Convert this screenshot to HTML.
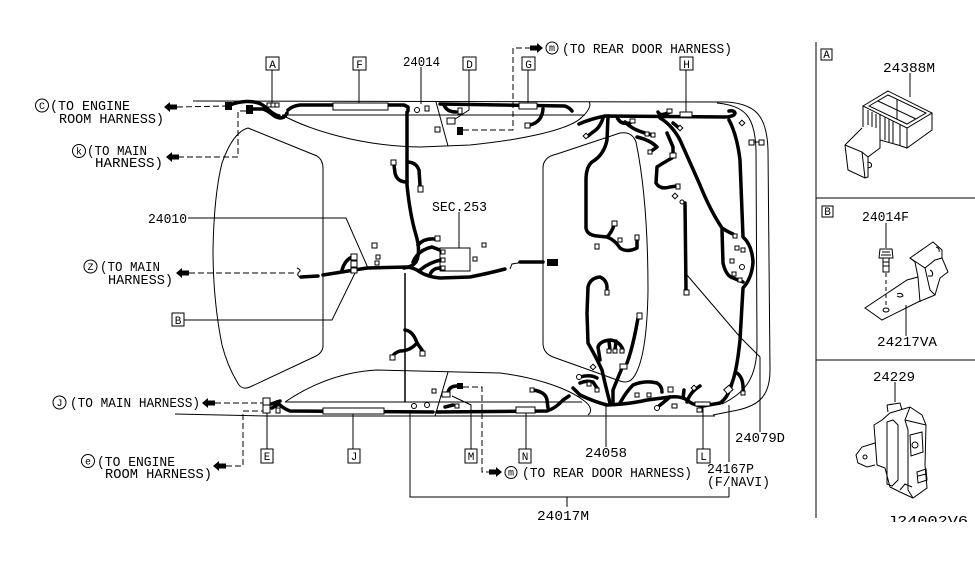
<!DOCTYPE html>
<html><head><meta charset="utf-8"><style>
html,body{margin:0;padding:0;background:#fff;}
svg{display:block;}
text{font-family:"Liberation Mono","DejaVu Sans Mono",monospace;font-size:14px;fill:#000;}
.s{font-size:10px;}
.b{font-size:11px;}
</style></head><body>
<svg width="975" height="566" viewBox="0 0 975 566" xmlns="http://www.w3.org/2000/svg">
<rect width="975" height="566" fill="#fff"/>

<!-- ===== body outlines ===== -->
<g fill="none" stroke="#000" stroke-width="1">
<path d="M193,101 L727,102 C755,104 767,115 768,150 L770,370 C770,395 760,405 738,410 L713,415"/>
<path d="M717,103 C745,106 755,116 756,150 L757,345 C757,378 745,393 722,404"/>
<path d="M175,414 L267,416 L715,416"/>
<!-- front door (top) -->
<path d="M282,115 C310,130 360,146 420,147 L470,145 C520,140 570,130 582,117 C590,110 591,104 589,102"/>
<path d="M282,115 L585,115"/>
<path d="M436,102 L448,146"/>
<!-- rear door (bottom) -->
<path d="M285,402 C310,385 340,372 377,370 L500,373 C540,378 570,390 583,400 C592,406 592,412 588,415"/>
<path d="M285,402 L582,402"/>
<path d="M448,372 L435,416"/>
<!-- windshield -->
<path d="M248,128 L317,156 Q323,160 323,168 L323,347 Q322,353 316,356 L250,387 Q243,390 239,385 Q228,368 222,345 Q213,300 213,250 Q214,195 222,163 Q233,132 248,128 Z"/>
<!-- rear window -->
<path d="M557,154 L620,133 Q632,131 636,142 Q648,200 648,290 Q647,360 633,378 Q628,384 620,381 L553,357 Q543,353 543,343 L543,168 Q543,157 557,154 Z"/>
</g>

<!-- ===== leaders ===== -->
<g fill="none" stroke="#000" stroke-width="1">
<path d="M272,70 L272,103"/>
<path d="M359,70 L359,104"/>
<path d="M421,67 L421,104"/>
<path d="M469,70 L469,110 L452,121"/>
<path d="M528,70 L528,103"/>
<path d="M686,70 L686,112"/>
<path d="M188,218 L346,218 L368,268"/>
<path d="M184,320 L332,320 L356,271"/>
<path d="M267,413 L267,449"/>
<path d="M353,414 L353,449"/>
<path d="M471,449 L471,405 L452,396"/>
<path d="M526,449 L526,413"/>
<path d="M606,447 L606,404"/>
<path d="M703,449 L703,406"/>
<path d="M760,432 L760,357 L740,337 L687,275"/>
<path d="M729,405 L729,462 M729,487 L729,497"/>
<path d="M410,410 L410,497 L729,497 M567,497 L567,507"/>
<path d="M459,212 L459,248"/>
<path d="M405,273 L405,402" stroke-width="1.5"/>
</g>

<!-- ===== dashed ===== -->
<g fill="none" stroke="#000" stroke-width="1" stroke-dasharray="6,3">
<path d="M177,107 L225,106"/>
<path d="M178,157 L238,157 L238,111 L246,111"/>
<path d="M189,273 L297,273"/>
<path d="M215,403 L263,403"/>
<path d="M226,466 L243,466 L243,411 L263,411"/>
<path d="M463,130 L513,130 L513,48 L530,48"/>
<path d="M463,387 L482,387 L482,472 L489,472"/>
</g>

<!-- ===== arrows ===== -->
<g fill="#000">
<polygon points="164,107 170,102 170,104.5 177,104.5 177,109.5 170,109.5 170,112"/>
<polygon points="166,157 172,152 172,154.5 179,154.5 179,159.5 172,159.5 172,162"/>
<polygon points="176,273 182,268 182,270.5 189,270.5 189,275.5 182,275.5 182,278"/>
<polygon points="202,403 208,398 208,400.5 215,400.5 215,405.5 208,405.5 208,408"/>
<polygon points="213,466 219,461 219,463.5 226,463.5 226,468.5 219,468.5 219,471"/>
<polygon points="543,48 537,43 537,45.5 530,45.5 530,50.5 537,50.5 537,53"/>
<polygon points="502,472 496,467 496,469.5 489,469.5 489,474.5 496,474.5 496,477"/>
<!-- black connectors -->
<rect x="225" y="102" width="7" height="8"/>
<rect x="246" y="105" width="7" height="9"/>
<rect x="457" y="127" width="6" height="8"/>
<rect x="547" y="259" width="11" height="7"/>
<rect x="457" y="383" width="6" height="6"/>
</g>

<!-- ===== harness (thick) ===== -->
<g fill="none" stroke="#000" stroke-width="3.5" stroke-linecap="round" stroke-linejoin="round">
<path d="M230,105 C240,101 252,100 261,104 C268,108 271,114 279,116"/>
<path d="M252,109 L262,109 C270,110 272,117 280,118 Q285,118 287,113"/>
<path d="M288,110 Q292,106 300,105 L404,105 L408,107 L408,111"/>
<path d="M440,104 L565,106 Q570,108 572,111"/>
<path d="M444,105 Q447,112 456,112"/>
<path d="M407,112 L407,185 Q410,215 416,235 Q421,252 416,262 Q412,267 404,268"/>
<path d="M407,162 Q416,162 419,170 L420,185"/>
<path d="M407,182 Q397,182 395,173 L394,165"/>
<path d="M418,245 Q424,238 435,239"/>
<path d="M543,109 Q542,122 530,125"/>
<!-- main horizontal -->
<path d="M301,277 L318,276"/>
<path d="M323,275 L367,268 L407,267 Q415,268 420,272 Q428,277 440,278 L470,277 Q490,273 505,269"/>
<path d="M520,262 L543,262"/>
<path d="M342,270 Q345,260 352,257"/>
<path d="M413,262 Q418,250 432,247 L445,252"/>
<path d="M420,270 Q430,262 441,260"/>
<path d="M430,275 Q432,268 441,268"/>
<!-- lower center -->
<path d="M405,330 Q413,331 417,343 L422,350"/>
<path d="M417,343 Q410,351 400,351 Q394,353 393,356"/>
<!-- bottom front -->
<path d="M277,402 Q282,408 290,411 L433,412"/>
<path d="M437,412 L547,411 Q556,408 563,400 L569,396"/>
<path d="M448,393 Q449,386 457,386"/>
<path d="M445,407 L453,405"/>
<path d="M533,390 Q546,392 547,400 L548,408"/>
<path d="M271,404 L280,401 M272,408 L279,404"/>
<!-- top rear -->
<path d="M579,124 Q590,119 605,116 L727,117 Q735,116 735,113 Q734,110 729,111"/>
<path d="M603,118 Q600,128 593,132 L588,136"/>
<path d="M608,116 L607,140 Q604,155 592,162 Q586,167 586,180 L586,228 Q587,235 597,236 L607,237 Q615,240 620,248 Q627,253 637,248 L637,240"/>
<path d="M607,237 Q612,232 614,225"/>
<path d="M617,117 Q620,125 630,123"/>
<path d="M625,122 Q633,130 645,133 L652,135"/>
<path d="M637,137 Q650,140 657,147 L650,152"/>
<path d="M667,133 L673,147 L673,155"/>
<path d="M672,158 Q663,163 657,167 L656,183 Q660,190 670,187 L677,186"/>
<path d="M685,203 L686,290"/>
<path d="M658,112 Q660,117 670,112"/>
<path d="M660,118 Q672,125 680,140 L700,185 Q710,210 722,228 Q728,232 733,234"/>
<path d="M722,230 L723,263 Q726,276 733,278 L743,282"/>
<path d="M673,123 L679,128"/>
<!-- right vertical -->
<path d="M729,120 Q737,135 740,160 L743,237 Q752,245 753,262 Q752,278 743,288 L740,340 Q737,370 732,383 Q728,398 720,403"/>
<path d="M737,373 Q744,378 743,392"/>
<!-- bottom rear -->
<path d="M720,403 L703,406 Q692,405 687,400 Q681,396 670,397 L647,400 Q630,404 607,405 Q595,402 580,395"/>
<path d="M613,403 L613,390 Q617,380 622,368"/>
<path d="M627,363 Q633,347 638,318"/>
<path d="M610,403 Q606,388 602,370 Q596,357 588,343 L587,313 L588,287 Q590,278 600,277 Q607,280 607,288"/>
<path d="M600,360 L598,347 Q600,341 610,340 Q620,341 623,350"/>
<path d="M609,341 L610,350 M616,341 L615,350"/>
<path d="M620,403 Q626,392 633,385 Q645,380 657,383 Q662,386 662,392"/>
<path d="M670,397 Q664,402 659,406"/>
<path d="M683,398 L684,390"/>
<path d="M687,402 Q690,392 700,386"/>
<path d="M580,383 Q587,380 593,382 L597,388"/>
<path d="M580,377 Q590,374 597,378"/>
<path d="M573,388 L580,395"/>
</g>

<!-- ===== connectors (white squares) ===== -->
<g fill="#fff" stroke="#000" stroke-width="1">
<rect x="333" y="103" width="55" height="7"/>
<rect x="519" y="103" width="18" height="6"/>
<rect x="267" y="103" width="4" height="4"/><rect x="271" y="103" width="4" height="4"/><rect x="275" y="103" width="4" height="4"/>
<circle cx="417" cy="110" r="2.5"/>
<rect x="425" y="106" width="4" height="5"/>
<rect x="447" y="118" width="8" height="6"/>
<rect x="435" y="127" width="5" height="5"/>
<rect x="458" y="108" width="4" height="6"/>
<rect x="525" y="123" width="5" height="5"/>
<rect x="391" y="160" width="5" height="5"/>
<rect x="418" y="186" width="5" height="6"/>
<rect x="435" y="236" width="5" height="5"/>
<rect x="440" y="248" width="30" height="23"/>
<rect x="441" y="250" width="4" height="4"/><rect x="441" y="258" width="4" height="4"/><rect x="441" y="266" width="4" height="4"/>
<rect x="482" y="243" width="4" height="4"/>
<rect x="473" y="257" width="4" height="4"/>
<rect x="351" y="254" width="6" height="6"/><rect x="351" y="261" width="6" height="6"/><rect x="351" y="268" width="6" height="5"/>
<rect x="372" y="243" width="5" height="5"/><rect x="376" y="255" width="4" height="4"/><rect x="375" y="261" width="4" height="4"/>
<rect x="390" y="355" width="5" height="5"/>
<rect x="420" y="351" width="5" height="5"/>
<rect x="263" y="398" width="7" height="7"/><rect x="263" y="405" width="7" height="8"/>
<rect x="276" y="408" width="4" height="5"/>
<rect x="323" y="408" width="61" height="6"/>
<circle cx="414" cy="406" r="2.5"/><circle cx="427" cy="405" r="2.5"/>
<rect x="442" y="392" width="8" height="5"/>
<rect x="432" y="389" width="4" height="4"/>
<rect x="455" y="404" width="4" height="4"/>
<rect x="530" y="388" width="4" height="4"/>
<rect x="516" y="407" width="19" height="6"/>
<!-- rear -->
<rect x="630" y="119" width="5" height="4"/>
<rect x="645" y="132" width="4" height="4"/><rect x="651" y="133" width="4" height="4"/>
<rect x="648" y="150" width="4" height="4"/>
<rect x="670" y="153" width="6" height="5"/>
<rect x="676" y="184" width="4" height="5"/>
<rect x="667" y="109" width="5" height="4"/>
<rect x="680" y="112" width="12" height="5"/>
<rect x="612" y="221" width="5" height="5"/>
<rect x="618" y="238" width="4" height="4"/>
<rect x="635" y="235" width="4" height="5"/>
<rect x="595" y="244" width="4" height="5"/>
<rect x="684" y="290" width="5" height="5"/>
<circle cx="682" cy="202" r="2"/>
<rect x="673" y="194" width="4" height="4" transform="rotate(45 675 196)"/>
<rect x="584" y="134" width="4" height="4" transform="rotate(45 586 136)"/>
<rect x="678" y="126" width="4" height="4" transform="rotate(45 680 128)"/>
<rect x="733" y="234" width="4" height="4"/>
<rect x="735" y="246" width="4" height="4"/><rect x="741" y="248" width="4" height="4"/>
<rect x="730" y="259" width="4" height="4"/>
<rect x="732" y="272" width="4" height="4"/><rect x="738" y="278" width="4" height="4"/>
<circle cx="742" cy="267" r="2.5"/>
<rect x="740" y="121" width="4" height="4" transform="rotate(45 742 123)"/>
<rect x="749" y="140" width="5" height="5"/><rect x="759" y="140" width="5" height="5"/>
<rect x="725" y="387" width="7" height="6" transform="rotate(-40 728 390)"/>
<rect x="741" y="391" width="4" height="4"/>
<rect x="695" y="402" width="15" height="4"/>
<rect x="697" y="408" width="5" height="4"/>
<rect x="605" y="290" width="4" height="5"/>
<rect x="637" y="313" width="5" height="6"/>
<rect x="620" y="364" width="7" height="5"/>
<rect x="607" y="349" width="4" height="4"/><rect x="613" y="349" width="4" height="4"/><rect x="620" y="349" width="4" height="4"/>
<rect x="635" y="393" width="4" height="4"/><rect x="647" y="393" width="4" height="4"/>
<circle cx="657" cy="408" r="2.5"/>
<rect x="672" y="404" width="5" height="4"/>
<rect x="668" y="387" width="5" height="5"/>
<rect x="692" y="386" width="4" height="4" transform="rotate(45 694 388)"/>
<rect x="587" y="382" width="4" height="4"/><rect x="595" y="388" width="4" height="4"/>
<circle cx="579" cy="377" r="2.5"/>
<rect x="591" y="365" width="4" height="4" transform="rotate(45 593 367)"/>
<line x1="754" y1="142" x2="759" y2="142"/>
</g>
<path d="M297,268 Q302,270 299,272 Q296,275 300,277" fill="none" stroke="#000" stroke-width="1"/>
<path d="M510,269 L512,264 L518,263 L520,262" fill="none" stroke="#000" stroke-width="1"/>

<!-- ===== labels boxes ===== -->
<g fill="none" stroke="#000" stroke-width="1">
<rect x="266" y="57" width="13" height="13"/>
<rect x="353" y="57" width="13" height="13"/>
<rect x="463" y="57" width="13" height="13"/>
<rect x="522" y="57" width="13" height="13"/>
<rect x="680" y="57" width="13" height="13"/>
<rect x="172" y="313" width="12" height="13"/>
<rect x="261" y="449" width="12" height="14"/>
<rect x="348" y="449" width="12" height="14"/>
<rect x="465" y="449" width="12" height="14"/>
<rect x="519" y="449" width="12" height="14"/>
<rect x="697" y="449" width="13" height="14"/>
<rect x="821" y="49" width="11" height="11"/>
<rect x="822" y="206" width="11" height="11"/>
<circle cx="42" cy="105.5" r="6.5"/>
<circle cx="79" cy="151" r="6.5"/>
<circle cx="90.5" cy="266.5" r="6.5"/>
<circle cx="59.5" cy="402.5" r="6.5"/>
<circle cx="88" cy="461" r="6.5"/>
<circle cx="552" cy="48" r="6"/>
<circle cx="511" cy="472.5" r="6"/>
</g>
<g class="b" text-anchor="middle">
<text class="b" x="272.5" y="68">A</text>
<text class="b" x="359.5" y="68">F</text>
<text class="b" x="469.5" y="68">D</text>
<text class="b" x="528.5" y="68">G</text>
<text class="b" x="686.5" y="68">H</text>
<text class="b" x="178" y="324">B</text>
<text class="b" x="267" y="460">E</text>
<text class="b" x="354" y="460">J</text>
<text class="b" x="471" y="460">M</text>
<text class="b" x="525" y="460">N</text>
<text class="b" x="703.5" y="460">L</text>
<text class="b" x="826.5" y="58">A</text>
<text class="b" x="827.5" y="215">B</text>
<text class="s" x="42" y="109">C</text>
<text class="s" x="79" y="154.5">k</text>
<text class="s" x="90.5" y="270">Z</text>
<text class="s" x="59.5" y="406">J</text>
<text class="s" x="88" y="464.5">e</text>
<text class="s" x="552" y="51">m</text>
<text class="s" x="511" y="475.5">m</text>
</g>

<!-- ===== texts ===== -->
<text x="50" y="110" textLength="80" lengthAdjust="spacingAndGlyphs">(TO ENGINE</text>
<text x="59" y="123" textLength="105" lengthAdjust="spacingAndGlyphs">ROOM HARNESS)</text>
<text x="87" y="155" textLength="60" lengthAdjust="spacingAndGlyphs">(TO MAIN</text>
<text x="95" y="167" textLength="68" lengthAdjust="spacingAndGlyphs">HARNESS)</text>
<text x="148" y="223" textLength="39" lengthAdjust="spacingAndGlyphs">24010</text>
<text x="100" y="271" textLength="60" lengthAdjust="spacingAndGlyphs">(TO MAIN</text>
<text x="108" y="284" textLength="65" lengthAdjust="spacingAndGlyphs">HARNESS)</text>
<text x="70" y="407" textLength="130" lengthAdjust="spacingAndGlyphs">(TO MAIN HARNESS)</text>
<text x="97" y="466" textLength="78" lengthAdjust="spacingAndGlyphs">(TO ENGINE</text>
<text x="105" y="478" textLength="107" lengthAdjust="spacingAndGlyphs">ROOM HARNESS)</text>
<text x="562" y="53" textLength="170" lengthAdjust="spacingAndGlyphs">(TO REAR DOOR HARNESS)</text>
<text x="403" y="66" textLength="37" lengthAdjust="spacingAndGlyphs">24014</text>
<text x="432" y="211" textLength="55" lengthAdjust="spacingAndGlyphs">SEC.253</text>
<text x="522" y="477" textLength="170" lengthAdjust="spacingAndGlyphs">(TO REAR DOOR HARNESS)</text>
<text x="585" y="457" textLength="42" lengthAdjust="spacingAndGlyphs">24058</text>
<text x="735" y="442" textLength="50" lengthAdjust="spacingAndGlyphs">24079D</text>
<text x="707" y="473" textLength="47" lengthAdjust="spacingAndGlyphs">24167P</text>
<text x="707" y="486" textLength="63" lengthAdjust="spacingAndGlyphs">(F/NAVI)</text>
<text x="537" y="520" textLength="52" lengthAdjust="spacingAndGlyphs">24017M</text>
<text x="883" y="72" textLength="52" lengthAdjust="spacingAndGlyphs">24388M</text>
<text x="862" y="221" textLength="47" lengthAdjust="spacingAndGlyphs">24014F</text>
<text x="877" y="346" textLength="60" lengthAdjust="spacingAndGlyphs">24217VA</text>
<text x="873" y="381" textLength="42" lengthAdjust="spacingAndGlyphs">24229</text>
<text x="887" y="525" textLength="81" lengthAdjust="spacingAndGlyphs">J24002V6</text>
<rect x="880" y="522" width="95" height="10" fill="#fff"/>

<!-- ===== right panel ===== -->
<g fill="none" stroke="#000" stroke-width="1">
<path d="M816,42 L816,518"/>
<path d="M816,198 L975,198"/>
<path d="M816,360 L975,360"/>
<!-- leaders -->
<path d="M910,73 L910,97"/>
<path d="M886,223 L886,248"/>
<path d="M906,336 L906,305"/>
<path d="M895,382 L895,402"/>
<!-- part A -->
<path d="M863,106 L888,91 L932,113 L907,128 Z"/>
<path d="M869,106 L888,95 L926,113 L907,124 Z"/>
<path d="M878,101 L916,119 M897,99 L897,119"/>
<path d="M863,106 L863,127 M907,128 L907,148 L932,130 L932,113"/>
<path d="M880,114 L880,140 L898,145 L907,148"/>
<path d="M868,110 L868,125 M872,112 L872,127 M876,114 L876,128 M885,117 L885,140 M889,119 L889,142 M893,121 L893,143 M900,124 L900,146"/>
<path d="M862,128 L845,145 L848,170 L865,178 L868,177 L868,157 L880,148 L880,127"/>
<path d="M845,145 L862,152 L868,157 M862,152 L865,178"/>
<path d="M868,162 Q873,163 871,167 L868,168"/>
<!-- part B -->
<path d="M880,249 L892,249 L893,258 L879,258 Z"/>
<path d="M882,252 L890,252 M881,255 L891,255"/>
<path d="M883,258 L883,272 L889,272 L889,258 M883,262 L889,262 M883,266 L889,266"/>
<path d="M886,273 L886,306" stroke-dasharray="4,3"/>
<ellipse cx="886" cy="310" rx="3" ry="2"/>
<path d="M865,308 L882,320 L918,302 L935,295 L940,278 L948,272 L942,258 L942,250 L933,242 L910,258 L915,262 L918,277 L907,280 Z"/>
<path d="M918,277 L920,302 M910,258 L925,268 L935,260 L942,258 M925,268 L930,290 L935,295"/>
<path d="M930,270 Q934,272 932,276 L928,276"/>
<path d="M936,247 Q940,248 939,252"/>
<path d="M897,294 Q902,292 903,296 Q900,298 897,296"/>
<!-- part C -->
<path d="M887,405 L900,403 L902,410"/>
<path d="M887,405 L888,412"/>
<path d="M882,420 L890,413 L910,407 L922,415 L926,425 L925,465 L927,488 L913,498 L900,492 L890,487 L885,468 L877,465 L874,425 Z"/>
<path d="M910,407 L905,420 L908,430 L908,490 L913,498 M905,420 L926,425"/>
<path d="M887,422 L893,420 L898,425 L898,480 L892,486 L887,484 Z"/>
<path d="M875,443 L862,447 L856,455 L858,463 L867,467 L875,465"/>
<circle cx="865" cy="457" r="2"/>
<path d="M910,435 L922,432 L923,452 L911,456 Z"/>
<circle cx="915" cy="445" r="3"/>
<path d="M917,472 L926,469 L927,480 L918,483 Z M918,476 L926,474"/>
<path d="M900,490 L905,484 L912,487"/>
</g>
</svg>
</body></html>
